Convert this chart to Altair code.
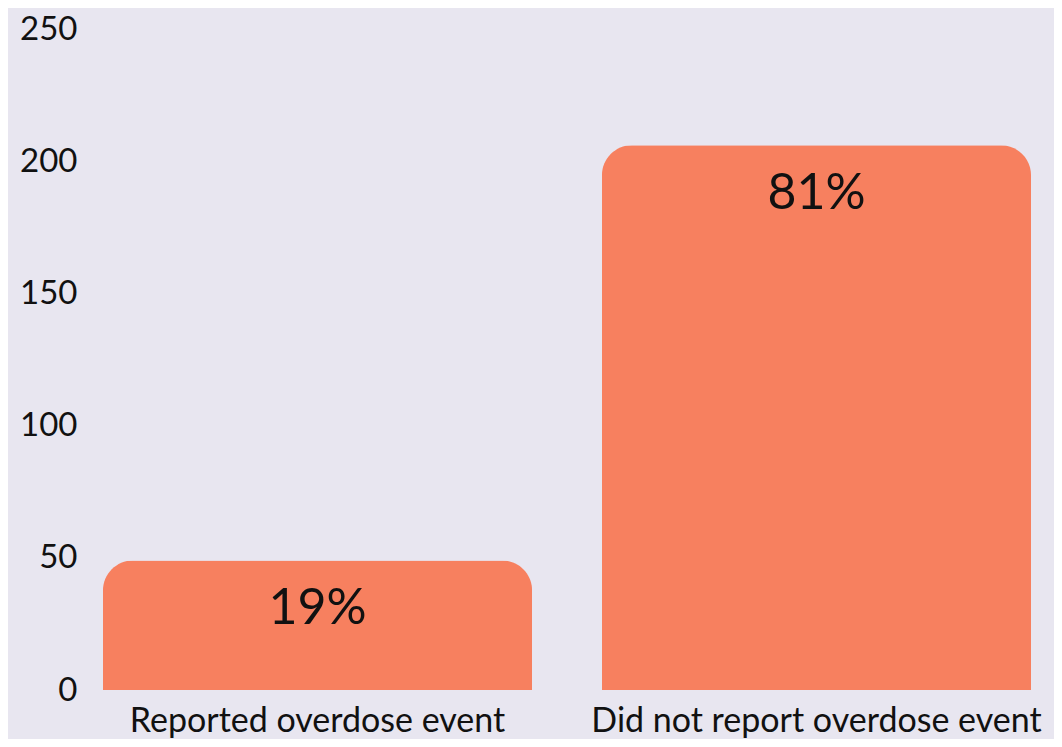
import altair as alt
import pandas as pd

categories = ["Reported overdose event", "Did not report overdose event"]
counts = [49, 206]
pct_labels = ["19%", "81%"]

df = pd.DataFrame({"cat": categories, "count": counts, "pct": pct_labels})

FONT = "Lato"
BAR = "#F7805F"
BG = "#E8E6F0"

x = alt.X("cat:N", sort=categories, title=None,
          scale=alt.Scale(paddingInner=0.14, paddingOuter=0.046),
          axis=alt.Axis(labelAngle=0, labelFontSize=34, labelFont=FONT, labelColor="#111111",
                        labelPadding=14, labelLimit=1000, ticks=False, domain=False, grid=False))
y = alt.Y("count:Q", title=None,
          scale=alt.Scale(domain=[0, 250], nice=False),
          axis=alt.Axis(values=[0, 50, 100, 150, 200, 250], labelFontSize=33, labelFont=FONT,
                        labelColor="#111111", labelPadding=3, ticks=False, domain=False, grid=False))

bars = alt.Chart(df).mark_bar(color=BAR, cornerRadiusTopLeft=30, cornerRadiusTopRight=30).encode(x=x, y=y)
text = alt.Chart(df).mark_text(baseline="middle", dy=49, fontSize=50, font=FONT, color="#111111").encode(
    x=alt.X("cat:N", sort=categories), y="count:Q", text="pct:N")

chart = (bars + text).properties(
    width=974, height=661,
    autosize=alt.AutoSizeParams(type="none"),
    padding={"left": 72, "top": 21, "right": 0, "bottom": 49},
    background=BG,
).configure_view(stroke=None)

chart.save("out.html", embed_options={"renderer": "svg", "actions": False})
